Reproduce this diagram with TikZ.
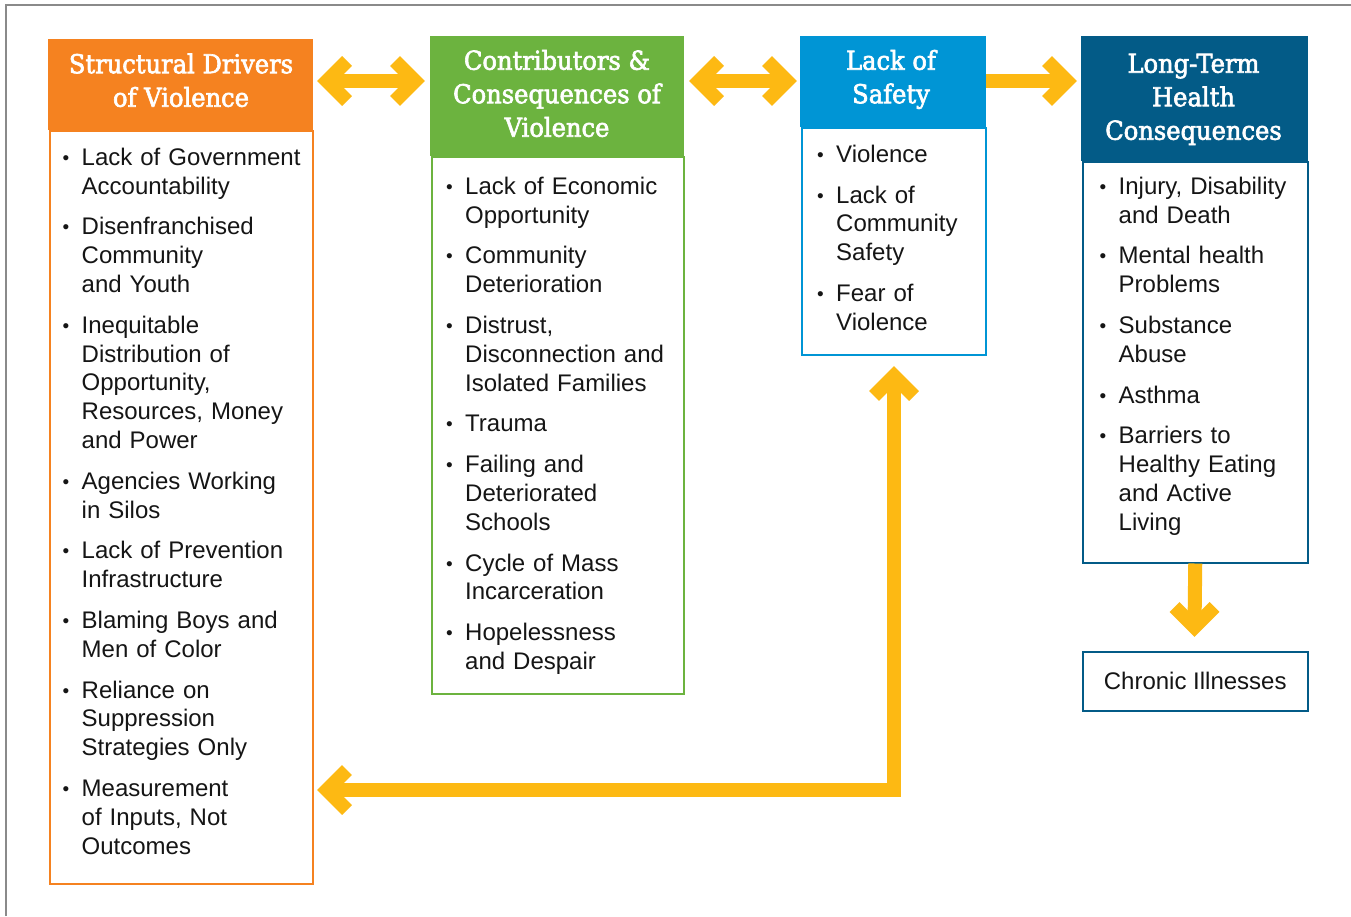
\documentclass[tikz,border=0pt]{standalone}
\usepackage{fontspec}
\setmainfont{Liberation Sans}
\newfontfamily\hdrfont[FakeStretch=0.93,FakeBold=2.4]{DejaVu Serif}
\usetikzlibrary{calc}
\definecolor{corange}{HTML}{F58220}
\definecolor{cgreen}{HTML}{6CB33F}
\definecolor{cblue}{HTML}{0095D5}
\definecolor{cdblue}{HTML}{035B87}
\definecolor{cyellow}{HTML}{FDB913}
\definecolor{cframe}{HTML}{8A8A8A}
\definecolor{ctext}{HTML}{151515}
\newcommand{\bul}{\makebox[19pt][l]{\raisebox{1pt}{\fontsize{19}{19}\selectfont •}}}
\newcommand{\cnt}{\hspace*{19pt}}
\begin{document}
\begin{tikzpicture}[x=1pt,y=-1pt,
  hdrbox/.style={anchor=north west, inner sep=0pt, draw=none},
  bodybox/.style={anchor=north west, inner sep=0pt, line width=1.5pt, fill=white},
  hdrtext/.style={anchor=north, inner sep=0pt, align=center, text=white,
    font=\hdrfont\fontsize{26}{33.5}\selectfont},
  itemtext/.style={anchor=north west, inner sep=0pt, align=left, text=ctext,
    font=\fontsize{24}{28.8}\selectfont},
  yarr/.style={draw=cyellow, line width=14pt, line join=miter, line cap=butt}]
\useasboundingbox (0,0) rectangle (1351,916);
\fill[white] (0,0) rectangle (1351,916);
\draw[cframe, line width=1.5pt] (6,916) -- (6,5) -- (1351,5);

% boxes
\node[bodybox, draw=corange, minimum width=263pt, minimum height=753pt] (b1) at (49,130) {};
\node[hdrbox, fill=corange, minimum width=265pt, minimum height=91pt] (h1) at (48,39) {};
\node[bodybox, draw=cgreen, minimum width=252pt, minimum height=537pt] (b2) at (431,156) {};
\node[hdrbox, fill=cgreen, minimum width=254pt, minimum height=120pt] (h2) at (430,36) {};
\node[bodybox, draw=cblue, minimum width=184pt, minimum height=227pt] (b3) at (801,127) {};
\node[hdrbox, fill=cblue, minimum width=186pt, minimum height=91pt] (h3) at (800,36) {};
\node[bodybox, draw=cdblue, minimum width=225pt, minimum height=401pt] (b4) at (1082,161) {};
\node[hdrbox, fill=cdblue, minimum width=227pt, minimum height=125pt] (h4) at (1081,36) {};
\node[bodybox, draw=cdblue, minimum width=225pt, minimum height=59pt, text=ctext,
  font=\fontsize{24}{28.8}\selectfont] (ch) at (1082,651) {Chronic Illnesses};

% header texts
\node[hdrtext] (ht1) at (181,53) {\rule{0pt}{20pt}Structural Drivers\\of Violence};
\node[hdrtext] (ht2) at (557,49.5) {\rule{0pt}{20pt}Contributors \&\\Consequences of\\Violence};
\node[hdrtext] (ht3) at (891,49.5) {\rule{0pt}{20pt}Lack of\\Safety};
\node[hdrtext] (ht4) at (1193.5,52.5) {\rule{0pt}{20pt}Long-Term\\Health\\Consequences};

% body texts
\node[itemtext, text width=245pt] (t1) at (62.5,145) {\rule{0pt}{20pt}%
\bul Lack of Government\\ \cnt Accountability\\[12pt]
\bul Disenfranchised\\ \cnt Community\\ \cnt and Youth\\[12pt]
\bul Inequitable\\ \cnt Distribution of\\ \cnt Opportunity,\\ \cnt Resources, Money\\ \cnt and Power\\[12pt]
\bul Agencies Working\\ \cnt in Silos\\[12pt]
\bul Lack of Prevention\\ \cnt Infrastructure\\[12pt]
\bul Blaming Boys and\\ \cnt Men of Color\\[12pt]
\bul Reliance on\\ \cnt Suppression\\ \cnt Strategies Only\\[12pt]
\bul Measurement\\ \cnt of Inputs, Not\\ \cnt Outcomes};

\node[itemtext, text width=235pt] (t2) at (446,174) {\rule{0pt}{20pt}%
\bul Lack of Economic\\ \cnt Opportunity\\[12pt]
\bul Community\\ \cnt Deterioration\\[12pt]
\bul Distrust,\\ \cnt Disconnection and\\ \cnt Isolated Families\\[12pt]
\bul Trauma\\[12pt]
\bul Failing and\\ \cnt Deteriorated\\ \cnt Schools\\[12pt]
\bul Cycle of Mass\\ \cnt Incarceration\\[12pt]
\bul Hopelessness\\ \cnt and Despair};

\node[itemtext, text width=165pt] (t3) at (817,142) {\rule{0pt}{20pt}%
\bul Violence\\[12pt]
\bul Lack of\\ \cnt Community\\ \cnt Safety\\[12pt]
\bul Fear of\\ \cnt Violence};

\node[itemtext, text width=205pt] (t4) at (1099.5,174) {\rule{0pt}{20pt}%
\bul Injury, Disability\\ \cnt and Death\\[12pt]
\bul Mental health\\ \cnt Problems\\[12pt]
\bul Substance\\ \cnt Abuse\\[12pt]
\bul Asthma\\[12pt]
\bul Barriers to\\ \cnt Healthy Eating\\ \cnt and Active\\ \cnt Living};

% arrows
\coordinate (A1) at (327,81); \coordinate (A2) at (415,81);
\draw[yarr] (A1) -- (A2);
\draw[yarr] ($(A1)+(20,-20)$) -- (A1) -- ($(A1)+(20,20)$);
\draw[yarr] ($(A2)+(-20,-20)$) -- (A2) -- ($(A2)+(-20,20)$);

\coordinate (B1) at (699,81); \coordinate (B2) at (787,81);
\draw[yarr] (B1) -- (B2);
\draw[yarr] ($(B1)+(20,-20)$) -- (B1) -- ($(B1)+(20,20)$);
\draw[yarr] ($(B2)+(-20,-20)$) -- (B2) -- ($(B2)+(-20,20)$);

\coordinate (C2) at (1067,81);
\draw[yarr] (h3.east |- C2) -- (C2);
\draw[yarr] ($(C2)+(-20,-20)$) -- (C2) -- ($(C2)+(-20,20)$);

\coordinate (D2) at (1194.5,627);
\draw[yarr] (b4.south) -- (D2);
\draw[yarr] ($(D2)+(-20,-20)$) -- (D2) -- ($(D2)+(20,-20)$);

\coordinate (E1) at (894,376); \coordinate (E2) at (894,790); \coordinate (E3) at (327,790);
\draw[yarr] (E1) -- (E2) -- (E3);
\draw[yarr] ($(E1)+(-20,20)$) -- (E1) -- ($(E1)+(20,20)$);
\draw[yarr] ($(E3)+(20,-20)$) -- (E3) -- ($(E3)+(20,20)$);
\end{tikzpicture}
\end{document}
